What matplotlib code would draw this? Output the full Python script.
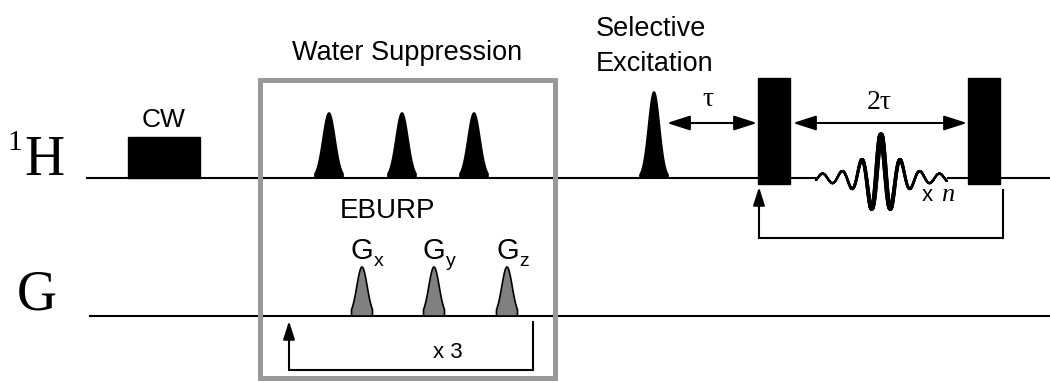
import numpy as np
import matplotlib.pyplot as plt
from matplotlib.patches import Rectangle
from matplotlib.collections import LineCollection

# drawing is laid out in pixel units, y pointing down
W, H = 1050, 381

# channel baselines
h_y, h_x0 = 178, 87
g_y, g_x0 = 316, 90

# CW saturation block
cw_left, cw_right, cw_top = 128, 200, 137

# water suppression shaped pulses on 1H
sup_centres = [329, 402, 474]
sup_height = 65
sup_sigma, sup_half = 6.0, 14

# selective excitation pulse
sel_centre, sel_height = 654, 86
sel_sigma, sel_half = 5.5, 14

# gradient pulses
grad_centres = [362, 434, 507]
grad_subs = ['x', 'y', 'z']
grad_height = 49
grad_sigma, grad_half = 5.2, 10.5

# hard pulses
hard_left = [758, 968]
hard_width = 32
hard_top, hard_bottom = 78, 184

# echo wiggle
fid_start, fid_end, fid_peak = 816, 947, 881
fid_period = 19.5
fid_amp, fid_floor, fid_width, fid_power = 39, 4, 19.3, 1.37

# water suppression frame
box_left, box_right, box_top, box_bottom = 259.5, 555, 79.5, 378

sans = 'Liberation Sans'
serif = 'Liberation Serif'


def gauss_pulse(ax, xc, base, height, sigma, half, fc, ec):
    t = np.linspace(-half, half, 121)
    y = base - height * np.exp(-t**2 / (2 * sigma**2))
    xs = np.concatenate([[xc - half], xc + t, [xc + half]])
    ys = np.concatenate([[base], y, [base]])
    ax.fill(xs, ys, facecolor=fc, edgecolor=ec, lw=1.2, zorder=3)


fig = plt.figure(figsize=(W / 100, H / 100), dpi=100)
ax = fig.add_axes([0, 0, 1, 1])
ax.set_xlim(0, W)
ax.set_ylim(H, 0)
ax.axis('off')

lw = 1.5
# 1H channel line, broken where the echo is drawn
ax.plot([h_x0, fid_start - 1], [h_y, h_y], color='black', lw=lw, zorder=1)
ax.plot([fid_end + 1, W], [h_y, h_y], color='black', lw=lw, zorder=1)
# gradient channel line
ax.plot([g_x0, W], [g_y, g_y], color='black', lw=lw, zorder=1)

# CW block
ax.add_patch(Rectangle((cw_left, cw_top), cw_right - cw_left, h_y - cw_top,
                       facecolor='black', edgecolor='black', zorder=2))
ax.text((cw_left + cw_right) / 2, 127, 'CW', family=sans, fontsize=19,
        ha='center', va='baseline')

for xc in sup_centres:
    gauss_pulse(ax, xc, h_y, sup_height, sup_sigma, sup_half, 'black', 'black')
gauss_pulse(ax, sel_centre, h_y, sel_height, sel_sigma, sel_half, 'black', 'black')

for xc, sub in zip(grad_centres, grad_subs):
    gauss_pulse(ax, xc, g_y, grad_height, grad_sigma, grad_half, '#808080', 'black')
    ax.text(xc - 11, 259, 'G', family=sans, fontsize=21, ha='left', va='baseline')
    ax.text(xc + 12, 266, sub, family=sans, fontsize=14, ha='left', va='baseline')

for xl in hard_left:
    ax.add_patch(Rectangle((xl, hard_top), hard_width, hard_bottom - hard_top,
                           facecolor='black', edgecolor='black', zorder=3))

# echo wiggle, pen gets heavier where the signal is large
t = np.linspace(fid_start, fid_end, 900) - fid_peak
env = fid_amp * np.exp(-(np.abs(t) / fid_width) ** fid_power) + fid_floor
ys = h_y - env * np.cos(2 * np.pi * t / fid_period)
pts = np.column_stack([t + fid_peak, ys]).reshape(-1, 1, 2)
segs = np.concatenate([pts[:-1], pts[1:]], axis=1)
widths = 1.6 + 2.2 * (env[:-1] - fid_floor) / fid_amp
ax.add_collection(LineCollection(segs, colors='black', linewidths=widths,
                                 capstyle='round', zorder=3))

# water suppression frame
ax.add_patch(Rectangle((box_left, box_top), box_right - box_left, box_bottom - box_top,
                       fill=False, edgecolor='#999999', lw=3.6, zorder=4))
ax.text((box_left + box_right) / 2, 60, 'Water Suppression', family=sans,
        fontsize=19.5, ha='center', va='baseline')
ax.text(340, 218, 'EBURP', family=sans, fontsize=20, ha='left', va='baseline')

# x3 loop bracket
ax.plot([533, 533, 289, 289], [322, 370, 370, 336], color='black', lw=lw,
        solid_joinstyle='miter', zorder=2)
ax.annotate('', xy=(289, 321), xytext=(289, 340),
            arrowprops=dict(arrowstyle='-|>,head_length=1.1,head_width=0.35',
                            color='black', lw=lw, mutation_scale=10, shrinkA=0, shrinkB=0))
ax.text(433, 358, 'x 3', family=sans, fontsize=16, ha='left', va='baseline')

# xn loop bracket
ax.plot([1003, 1003, 759, 759], [190, 238, 238, 202], color='black', lw=lw,
        solid_joinstyle='miter', zorder=2)
ax.annotate('', xy=(759, 187), xytext=(759, 206),
            arrowprops=dict(arrowstyle='-|>,head_length=1.1,head_width=0.35',
                            color='black', lw=lw, mutation_scale=10, shrinkA=0, shrinkB=0))
ax.text(922, 201, 'x', family=sans, fontsize=16, ha='left', va='baseline')
ax.text(941, 201, 'n', family=serif, style='italic', fontsize=19, ha='left', va='baseline')

# delay arrows
arrow = dict(arrowstyle='<|-|>,head_length=1.4,head_width=0.45', color='black',
             lw=lw, mutation_scale=10, shrinkA=0, shrinkB=0)
ax.annotate('', xy=(667, 123), xytext=(757, 123), arrowprops=arrow)
ax.annotate('', xy=(793, 123), xytext=(967, 123), arrowprops=arrow)
ax.text(708, 106, '\u03c4', family=serif, fontsize=20, ha='center', va='baseline')
ax.text(879, 109, '2\u03c4', family=serif, fontsize=20, ha='center', va='baseline')

ax.text(596, 36, 'Selective', family=sans, fontsize=19.5, ha='left', va='baseline')
ax.text(596, 71, 'Excitation', family=sans, fontsize=19.5, ha='left', va='baseline')

# channel labels
ax.text(24, 175, 'H', family=serif, fontsize=40, ha='left', va='baseline')
ax.text(7, 150, '1', family=serif, fontsize=21, ha='left', va='baseline')
ax.text(17, 309, 'G', family=serif, fontsize=40, ha='left', va='baseline')

fig.savefig('out.png', dpi=100)
